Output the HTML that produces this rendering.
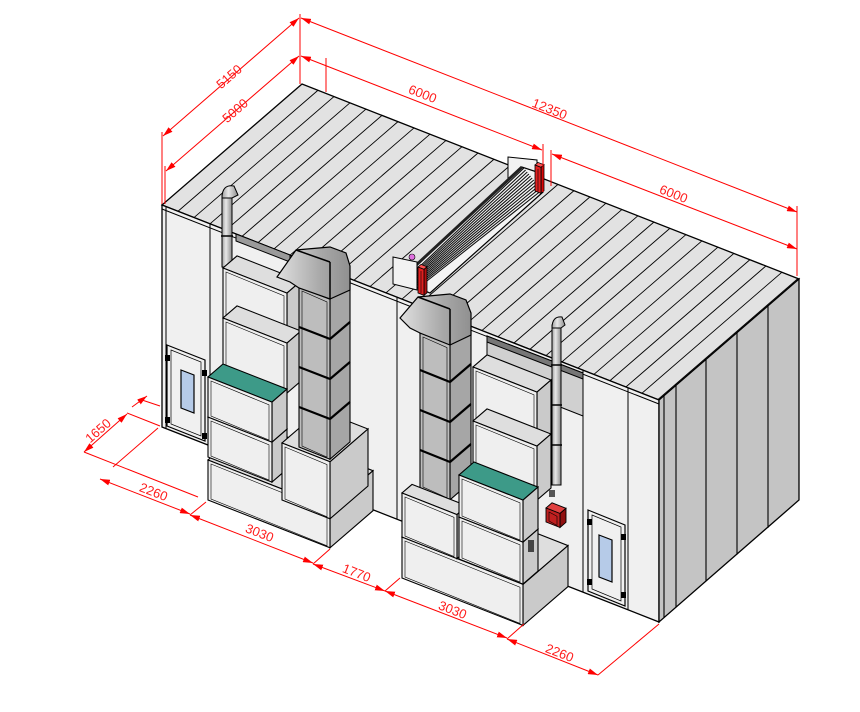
<!DOCTYPE html>
<html><head><meta charset="utf-8"><style>
html,body{margin:0;padding:0;background:#fff;width:860px;height:712px;overflow:hidden}
svg{display:block}
text{font-family:"Liberation Sans",sans-serif;font-size:13px;fill:#ff1a1a}
</style></head><body>
<svg id="s" width="860" height="712" viewBox="0 0 860 712" xmlns="http://www.w3.org/2000/svg">
<defs>
<linearGradient id="hg" x1="0" y1="0" x2="1" y2="0"><stop offset="0" stop-color="#e0e0e0"/><stop offset="0.6" stop-color="#a8a8a8"/><stop offset="1" stop-color="#909090"/></linearGradient>
<linearGradient id="pg" x1="0" y1="0" x2="1" y2="0"><stop offset="0" stop-color="#a0a0a0"/><stop offset="0.4" stop-color="#e8e8e8"/><stop offset="1" stop-color="#8c8c8c"/></linearGradient>
<marker id="ar" viewBox="0 0 10 6" refX="10" refY="3" markerWidth="10" markerHeight="6" orient="auto-start-reverse" markerUnits="userSpaceOnUse"><path d="M0,0L10,3L0,6z" fill="#ff0000"/></marker>
</defs>
<g id="g"></g>
<g stroke="#ff0000" stroke-width="1" fill="none">
 <!-- top extension lines -->
 <line x1="300" y1="14" x2="300" y2="84"/>
 <line x1="162" y1="132" x2="162" y2="204"/>
 <line x1="165" y1="166" x2="165" y2="204"/>
 <line x1="326" y1="58" x2="326" y2="92"/>
 <line x1="543" y1="144" x2="543" y2="192"/>
 <line x1="551" y1="150" x2="551" y2="186"/>
 <line x1="797" y1="206" x2="797" y2="276"/>
 <!-- dims top -->
 <line x1="163" y1="136" x2="299" y2="18" marker-start="url(#ar)" marker-end="url(#ar)"/>
 <line x1="166" y1="171" x2="299" y2="56" marker-start="url(#ar)" marker-end="url(#ar)"/>
 <line x1="301" y1="18" x2="797" y2="212" marker-start="url(#ar)" marker-end="url(#ar)"/>
 <line x1="301" y1="56" x2="542" y2="150" marker-start="url(#ar)" marker-end="url(#ar)"/>
 <line x1="552" y1="154" x2="797" y2="249" marker-start="url(#ar)" marker-end="url(#ar)"/>
 <!-- bottom dims -->
 <line x1="84" y1="452" x2="198" y2="497"/>
 <line x1="127" y1="413" x2="160" y2="426"/>
 <line x1="84" y1="452" x2="127" y2="414" marker-start="url(#ar)" marker-end="url(#ar)"/>
 <line x1="113" y1="467" x2="158" y2="428"/>
 <line x1="142" y1="400" x2="160" y2="406"/>
 <line x1="132" y1="407" x2="147" y2="396" marker-end="url(#ar)"/>
 <line x1="100" y1="479" x2="190" y2="514" marker-start="url(#ar)" marker-end="url(#ar)"/>
 <line x1="190" y1="515" x2="206" y2="502"/>
 <line x1="190" y1="515" x2="313" y2="563" marker-start="url(#ar)" marker-end="url(#ar)"/>
 <line x1="313" y1="564" x2="330" y2="549"/>
 <line x1="313" y1="564" x2="385" y2="591" marker-start="url(#ar)" marker-end="url(#ar)"/>
 <line x1="385" y1="591" x2="400" y2="578"/>
 <line x1="385" y1="591" x2="507" y2="638" marker-start="url(#ar)" marker-end="url(#ar)"/>
 <line x1="507" y1="639" x2="524" y2="624"/>
 <line x1="507" y1="639" x2="598" y2="675" marker-start="url(#ar)" marker-end="url(#ar)"/>
 <line x1="598" y1="675" x2="659" y2="624"/>
</g>
<text transform="translate(232,80) rotate(-41)" text-anchor="middle">5150</text>
<text transform="translate(238,114) rotate(-41)" text-anchor="middle">5000</text>
<text transform="translate(421,98) rotate(21.4)" text-anchor="middle">6000</text>
<text transform="translate(548,113) rotate(21.4)" text-anchor="middle">12350</text>
<text transform="translate(672,198) rotate(21.4)" text-anchor="middle">6000</text>
<text transform="translate(101,434) rotate(-41)" text-anchor="middle">1650</text>
<text transform="translate(152,496) rotate(21.4)" text-anchor="middle">2260</text>
<text transform="translate(258,537) rotate(21.4)" text-anchor="middle">3030</text>
<text transform="translate(355,577) rotate(21.4)" text-anchor="middle">1770</text>
<text transform="translate(451,614) rotate(21.4)" text-anchor="middle">3030</text>
<text transform="translate(558,657) rotate(21.4)" text-anchor="middle">2260</text>
</svg>
<script>
var S=0.392,K=0.864,o=[];
function P(pts,f,sw){o.push('<polygon points="'+pts.map(function(p){return p[0].toFixed(1)+','+p[1].toFixed(1)}).join(' ')+'" fill="'+f+'" stroke="#000" stroke-width="'+(sw||1.1)+'"/>');}
function L(a,b,c,d,w,col){o.push('<line x1="'+a+'" y1="'+b+'" x2="'+c+'" y2="'+d+'" stroke="'+(col||'#000')+'" stroke-width="'+(w||1)+'"/>');}
function box(x,y,w,h,d,cf,ct,cs,sw){var sy=S*w,kd=K*d;
 P([[x,y],[x+w,y+sy],[x+w+d,y+sy-kd],[x+d,y-kd]],ct||'#dedede',sw);
 P([[x+w,y+sy],[x+w+d,y+sy-kd],[x+w+d,y+sy-kd+h],[x+w,y+sy+h]],cs||'#cacaca',sw);
 P([[x,y],[x+w,y+sy],[x+w,y+sy+h],[x,y+h]],cf||'#efefef',sw);
 // inner frame line
 o.push('<polygon points="'+(x+3)+','+(y+4)+' '+(x+w-3)+','+(y+sy+2.8)+' '+(x+w-3)+','+(y+sy+h-2)+' '+(x+3)+','+(y+h-1)+'" fill="none" stroke="#000" stroke-width="0.6"/>');
}
// building
P([[162,205],[659,400],[799,279],[302,84]],'#e2e2e2',1.3);
P([[162,205],[659,400],[659,622],[162,427]],'#f0f0f0',1.3);
P([[659,400],[799,279],[799,500],[659,622]],'#c4c4c4',1.3);
L(162,209,659,404,1);
for(var x=178;x<659;x+=16){var y=205+S*(x-162);L(x,y,x+140,y-121,0.9);}
[166,210,397,583,628].forEach(function(x){var y=205+S*(x-162);L(x,y,x,y+222,1);});
[664,676,706,737,768].forEach(function(x){var y=400-K*(x-659);L(x,y,x,y+222,1.1);});
// dark slots
P([[236,234],[290,255],[290,262],[236,241]],'#9a9a9a',1);
P([[487,336],[583,373],[583,416],[550,403],[550,380],[487,356]],'#d0d0d0',1);
P([[487,336],[583,373],[583,379],[487,342]],'#777',1);
// roller door
P([[508,157],[537,160],[537,185],[508,180]],'#f2f2f2',1);
P([[413,268],[522,167],[537,172],[543,192],[430,293],[416,287]],'#f4f4f4',1.2);
for(var i=0;i<12;i++){var t=i/11;L(416+t*2,270+t*18,524+t*18,168+t*22,1.1,'#111');}
L(413,268,522,167,3,'#222');
P([[393,257],[417,262],[417,290],[393,284]],'#f2f2f2',1);
o.push('<circle cx="412" cy="257" r="3" fill="#e070e0" stroke="#000" stroke-width="0.6"/>');
box(535,165,6,26,3,'#e02020','#ff5050','#b01010',0.8);
box(418,267,6,26,3,'#e02020','#ff5050','#b01010',0.8);
// left door
P([[167,345],[205,360],[205,441],[167,426]],'#f0f0f0',1.2);
P([[171,350],[201,362],[201,436],[171,424]],'none',0.7);
P([[181,370],[194,375],[194,413],[181,408]],'#b6cbe8',1.2);
[[167,358],[167,420],[204,373],[204,436]].forEach(function(p){o.push('<rect x="'+(p[0]-2)+'" y="'+(p[1]-3)+'" width="5" height="6" fill="#000"/>');});
// right door
P([[588,510],[625,525],[625,606],[588,591]],'#f0f0f0',1.2);
P([[592,515],[621,527],[621,601],[592,589]],'none',0.7);
P([[599,535],[612,540],[612,582],[599,577]],'#b6cbe8',1.2);
[[589,522],[589,582],[623,537],[623,595]].forEach(function(p){o.push('<rect x="'+(p[0]-2)+'" y="'+(p[1]-3)+'" width="5" height="6" fill="#000"/>');});
// left unit
o.push('<rect x="222" y="195" width="10" height="72" fill="url(#pg)" stroke="#000" stroke-width="1"/>');
o.push('<path d="M222,198 Q222,184 234,186 L238,195 L232,198 Z" fill="url(#pg)" stroke="#000" stroke-width="1"/>');
L(221,236,233,236,1.5);
box(208,460,122,40,43);
box(223,268,64,50,14);
box(223,318,64,50,14);
box(208,417,64,40,15);
box(208,377,64,40,15,'#efefef','#3d9a88');
box(282,443,48,57,38);
box(299,287,31,160,20,'#bdbdbd','#d0d0d0','#a6a6a6');
[327,367,407].forEach(function(y){L(299,y,330,y+12,2.2);L(330,y+12,350,y-5,2.2);});
P([[277,277],[296,250],[330,247],[346,253],[350,266],[350,290],[330,299],[299,288],[290,282]],'url(#hg)',1.2);
L(296,250,330,262,1.5);L(330,262,330,299,1.5);
// right unit
box(402,537,121,41,45);
box(420,333,30,155,21,'#bdbdbd','#d0d0d0','#a6a6a6');
[370,410,450].forEach(function(y){L(420,y,450,y+12,2.2);L(450,y+12,471,y-6,2.2);});
P([[400,318],[418,297],[450,294],[466,300],[471,313],[471,335],[450,345],[420,333],[410,328]],'url(#hg)',1.2);
L(418,297,450,309,1.5);L(450,309,450,345,1.5);
box(402,493,55,44,10);
box(473,367,64,54,14);
box(473,421,64,54,14);
box(459,517,64,42,15);
box(459,475,64,42,15,'#efefef','#3d9a88');
o.push('<rect x="552" y="325" width="9" height="160" fill="url(#pg)" stroke="#000" stroke-width="1"/>');
o.push('<path d="M552,328 Q552,316 562,317 L565,325 L561,328 Z" fill="url(#pg)" stroke="#000" stroke-width="1"/>');
[365,405,445].forEach(function(y){L(551,y,562,y,1.5);});
box(546,508,14,14,6,'#c02020','#e04040','#901010',0.9);
o.push('<rect x="549" y="490" width="6" height="7" fill="#555"/><rect x="528" y="540" width="6" height="12" fill="#444"/>');
document.getElementById('g').innerHTML=o.join('');
</script>
</body></html>
